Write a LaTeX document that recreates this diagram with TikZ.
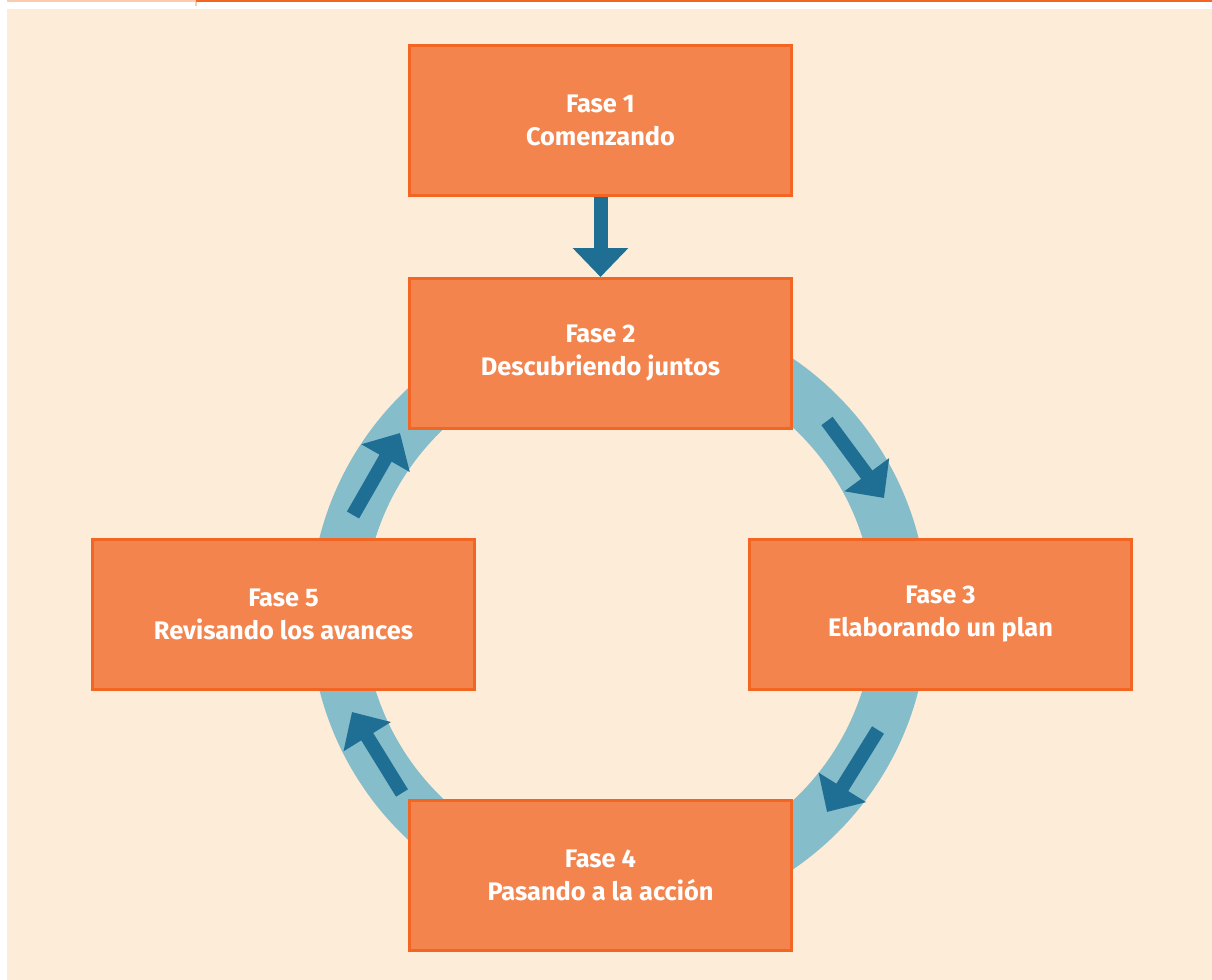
\documentclass[tikz,border=0pt]{standalone}
\usepackage{fontspec}
\setmainfont{Fira Sans}
\usepackage{tikz}
\usetikzlibrary{arrows.meta,positioning,calc}
\definecolor{cream}{HTML}{FDECD8}
\definecolor{fasefill}{HTML}{F4844E}
\definecolor{faseline}{HTML}{F26522}
\definecolor{ringblue}{HTML}{86BDCA}
\definecolor{flowblue}{HTML}{1F6E94}
\definecolor{paleline}{HTML}{FBCBAE}
\tikzset{
  every node/.append style={font=\fontsize{12.7}{16.5}\selectfont\bfseries},
}
\tikzset{
  fase/.style={draw=faseline, fill=fasefill, line width=1.5pt, text=white, align=center,
    minimum width=191pt, minimum height=75pt, inner sep=0pt},
  flow/.style={draw=flowblue, line width=7pt, -{Triangle[length=14.5pt,width=27pt]}},
  ring/.style={draw=ringblue, line width=27pt}
}
\begin{document}
\begin{tikzpicture}[x=0.5pt,y=-0.5pt]
\useasboundingbox (0,0) rectangle (1212,980);
\fill[cream] (7,9) rectangle (1212,980);
\fill[paleline] (7,0) rectangle (196,2);
\fill[faseline] (196,0) rectangle (1212,2);
\fill[paleline] (195,2) rectangle (197,6);
% ring behind the boxes
\draw[ring] (619,614) circle[radius=141pt];
\node[fase] (f1) at (600.5,120.5) {Fase 1\\Comenzando};
\node[fase, below=40pt of f1] (f2) {Fase 2\\Descubriendo juntos};
\node[fase] (f3) at (940.5,614) {Fase 3\\Elaborando un plan};
\node[fase] (f4) at (600.5,875) {Fase 4\\Pasando a la acción};
\node[fase] (f5) at (283.5,614) {Fase 5\\Revisando los avances};
% arrows along the ring
\coordinate (a1) at (827,421);  \coordinate (b1) at (884,498);
\coordinate (a2) at (878,730);  \coordinate (b2) at (827,812);
\coordinate (a3) at (402,793);  \coordinate (b3) at (352,712);
\coordinate (a4) at (353,515);  \coordinate (b4) at (400,433);
\draw[flow] (f1.south) -- (f2.north);
\draw[flow] (a1) -- (b1);
\draw[flow] (a2) -- (b2);
\draw[flow] (a3) -- (b3);
\draw[flow] (a4) -- (b4);
\end{tikzpicture}
\end{document}
